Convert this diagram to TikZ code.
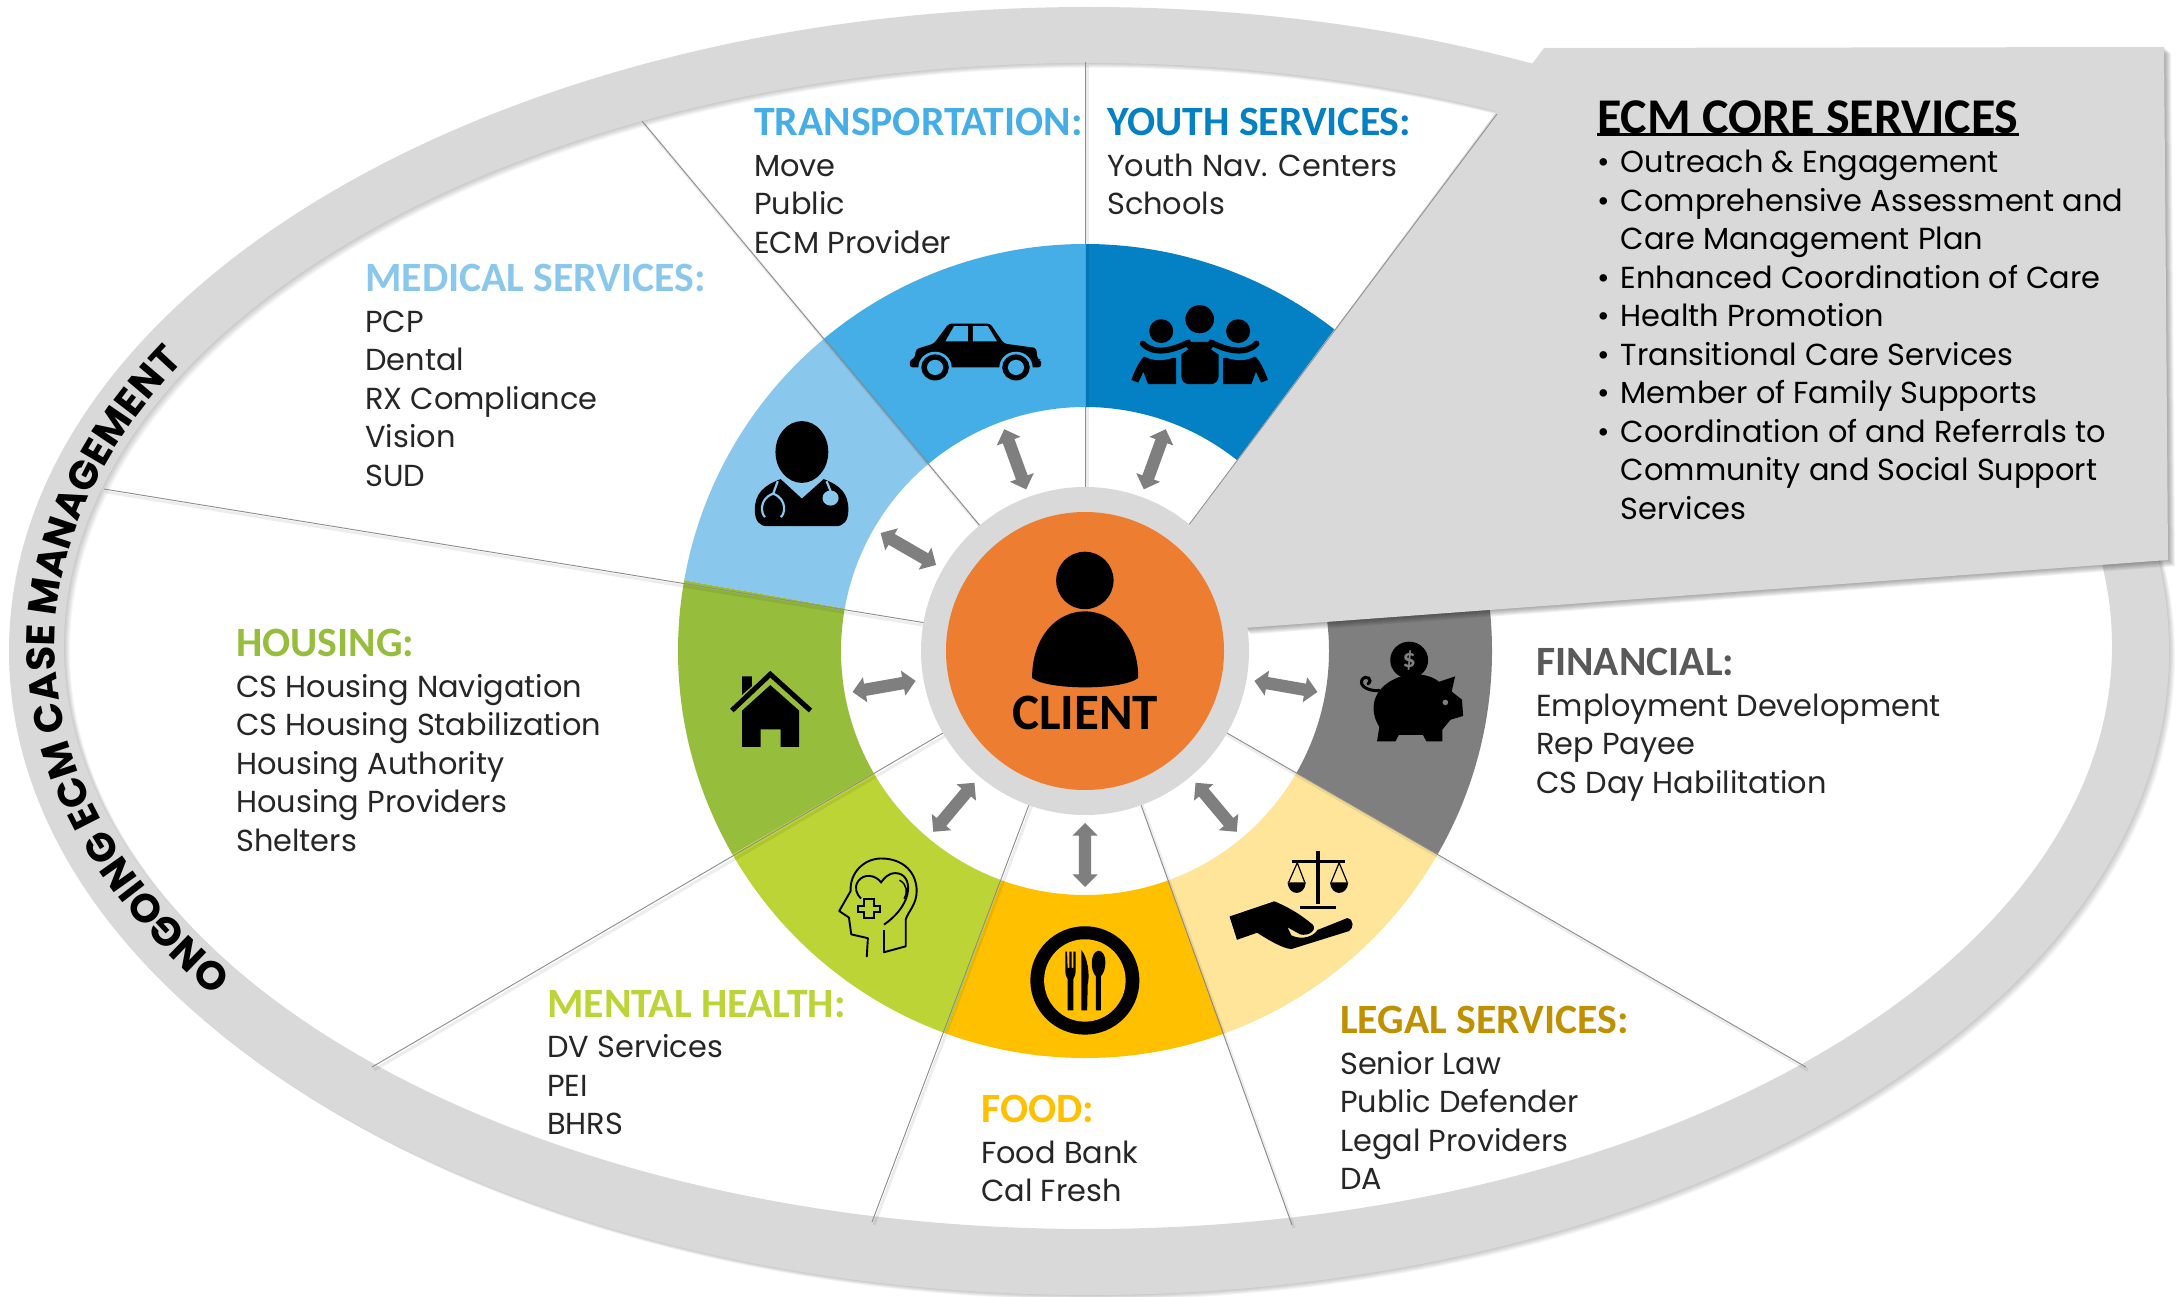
\documentclass[tikz,border=0pt]{standalone}
\usepackage{fontspec}
\usetikzlibrary{shapes.arrows,decorations.text,calc}
\setmainfont{Poppins}
\newfontfamily\headfam{Carlito}[BoldFont={Carlito Bold}]
\definecolor{bandgrey}{HTML}{D9D9D9}
\definecolor{arrowgrey}{HTML}{7F7F7F}
\definecolor{lineg}{HTML}{8C8C8C}
\definecolor{cYouth}{HTML}{0480C4}
\definecolor{cTrans}{HTML}{46AEE6}
\definecolor{cMed}{HTML}{89C8EC}
\definecolor{cHouse}{HTML}{96BE3C}
\definecolor{cMental}{HTML}{BCD435}
\definecolor{cFood}{HTML}{FFC000}
\definecolor{cLegal}{HTML}{FEE59A}
\definecolor{cLegalT}{HTML}{BF9000}
\definecolor{cFin}{HTML}{7F7F7F}
\definecolor{cFinT}{HTML}{595959}
\definecolor{cOrange}{HTML}{ED7D31}
\definecolor{bodyc}{HTML}{262626}
\newcommand\bodyfont{\fontsize{30.4}{38.5}\selectfont}
\newcommand\headfont{\headfam\bfseries\fontsize{41.7}{38.5}\selectfont}
\newcommand\shaft{\rule{0pt}{12pt}}
\tikzset{
  x=1pt,y=-1pt,
  wheel/.style={shift={(1085,651)},y=1pt},
  zc/.style={x=.574pt,y=-.542pt,shift={(640pt,-220pt)}},
  radial/.style={draw=lineg,line width=.9pt},
  radshadow/.style={draw=black,opacity=.07,line width=3pt},
  svc/.style={anchor=north west,inner sep=0pt,align=left,font=\bodyfont,text=bodyc},
  dbl/.style={double arrow,fill=arrowgrey,inner sep=0pt,minimum height=64pt,double arrow head extend=6.5pt,double arrow head indent=0pt},
  ic/.style={fill=black,draw=none},
}
\newcommand\seg[3]{\fill[#3] (#1:244) arc[start angle=#1,end angle=#2,radius=244] -- (#2:407) arc[start angle=#2,end angle=#1,radius=407] -- cycle;}
\newcommand\svcnode[6]{\node[svc] (#1) at (#2,#3) {{\headfont\color{#4}#5}\\[2pt]#6};}
\begin{document}
\begin{tikzpicture}
\useasboundingbox[fill=white] (0,0) rectangle (2178,1297);
% band shadow
\foreach \k in {1,2,3,4,5,6}{
  \fill[black,opacity=.035,even odd rule] (1089+\k,651+\k*.8) ellipse[x radius=1080,y radius=644] (1088+\k,646+\k*.8) ellipse[x radius=1024,y radius=583];
}
\fill[bandgrey,even odd rule] (1089,651) ellipse[x radius=1080,y radius=644] (1088,646) ellipse[x radius=1024,y radius=583];
% wheel
\begin{scope}[wheel]
\seg{50}{90}{cYouth}
\seg{90}{130}{cTrans}
\seg{130}{170}{cMed}
\seg{170}{210}{cHouse}
\seg{210}{250}{cMental}
\seg{250}{290}{cFood}
\seg{290}{330}{cLegal}
\seg{330}{370}{cFin}
\coordinate (s90) at (90:160);
\coordinate (s130) at (130:160);
\coordinate (s170) at (170:160);
\coordinate (s210) at (210:160);
\coordinate (s250) at (250:160);
\coordinate (s290) at (290:160);
\coordinate (s330) at (330:160);
\node[dbl,rotate=110] (a1) at (110:204) {\shaft};
\node[dbl,rotate=70] (a2) at (70:204) {\shaft};
\node[dbl,rotate=150] (a3) at (150:204) {\shaft};
\node[dbl,rotate=10] (a4) at (190:204) {\shaft};
\node[dbl,rotate=50] (a5) at (230:204) {\shaft};
\node[dbl,rotate=90] (a6) at (270:204) {\shaft};
\node[dbl,rotate=130] (a7) at (310:204) {\shaft};
\node[dbl,rotate=170] (a8) at (350:204) {\shaft};
\end{scope}
\coordinate (e90) at (1085,62);
\coordinate (e130) at (642,121);
\coordinate (e170) at (104,489);
\coordinate (e210) at (372,1067);
\coordinate (e250) at (872,1222);
\coordinate (e290) at (1292,1225);
\coordinate (e330) at (1806,1067);
\foreach \a in {90,130,170,210,250,290,330}{
  \draw[radshadow] ($(s\a)+(2,3)$) -- ($(e\a)+(2,3)$);
  \draw[radial] (s\a) -- (e\a);
}
% core box
\coordinate (b1) at (1188,526);
\coordinate (b2) at (1544,48);
\coordinate (b3) at (2164,47);
\coordinate (b4) at (2168,560);
\coordinate (b5) at (1244,628);
\foreach \k in {1,2,3,4,5,6,7}{
  \fill[black,opacity=.05] ($(b1)+(\k,\k*.9)$) -- ($(b2)+(\k,\k*.9)$) -- ($(b3)+(\k,\k*.9)$) -- ($(b4)+(\k,\k*.9)$) -- ($(b5)+(\k,\k*.9)$) -- cycle;
}
\fill[bandgrey] (b1) -- (b2) -- (b3) -- (b4) -- (b5) -- cycle;
\coordinate (b6) at (1497,114);
\draw[radial,line width=.8pt] (b1) -- (b6);
% hub
\fill[bandgrey] (1085,651) circle[radius=164];
\fill[cOrange] (1085,651) circle[radius=139];
% icons in zoom coordinates
\begin{scope}[zc]
% client
\fill[ic] (775,665) ellipse[x radius=50,y radius=53];
\fill[ic] (683,845) .. controls (683,770) and (725,722) .. (775,722) .. controls (825,722) and (868,770) .. (868,845) .. controls (840,868) and (710,868) .. (683,845) -- cycle;
% car
\fill[ic,rounded corners=3pt] (470,272) -- (470,258) -- (478,256) -- (481,238) -- (512,228) -- (538,191) -- (610,191) -- (634,228) -- (690,236) -- (693,258) -- (699,258) -- (699,272) -- (470,272) -- cycle;
\fill[cTrans] (532,224) -- (547,196) -- (571,196) -- (571,224) -- cycle;
\fill[cTrans] (580,196) -- (606,196) -- (622,224) -- (580,224) -- cycle;
\foreach \wx in {514,655}{
  \fill[cTrans] (\wx,272) ellipse[x radius=29,y radius=29];
  \fill[ic] (\wx,272) ellipse[x radius=24,y radius=24];
  \fill[cTrans] (\wx,272) ellipse[x radius=14,y radius=14];
}
% family
\fill[ic] (975,183) ellipse[x radius=25,y radius=26];
\fill[ic] (908,205) ellipse[x radius=21,y radius=22];
\fill[ic] (1042,205) ellipse[x radius=21,y radius=22];
\fill[ic,rounded corners=8pt] (943,225) -- (1008,225) -- (1008,303) -- (943,303) -- cycle;
\fill[ic] (856,295) .. controls (865,270) and (875,245) .. (895,245) -- (934,255) -- (934,303) -- (885,303) -- (877,280) -- (868,300) -- cycle;
\fill[ic] (1094,295) .. controls (1085,270) and (1075,245) .. (1055,245) -- (1016,255) -- (1016,303) -- (1065,303) -- (1073,280) -- (1082,300) -- cycle;
\draw[cYouth,line width=9pt] (870,232) .. controls (890,262) and (930,250) .. (950,232);
\draw[cYouth,line width=9pt] (1080,232) .. controls (1060,262) and (1020,250) .. (1000,232);
\draw[black,line width=6pt,line cap=round] (876,228) .. controls (895,250) and (930,240) .. (955,226);
\draw[black,line width=6pt,line cap=round] (1074,228) .. controls (1055,250) and (1020,240) .. (995,226);
% doctor
\fill[ic] (282,428) ellipse[x radius=46,y radius=57];
\fill[ic] (200,535) .. controls (200,505) and (215,490) .. (245,478) -- (282,514) -- (320,478) .. controls (350,490) and (363,505) .. (363,535) .. controls (363,555) and (355,565) .. (340,565) -- (222,565) .. controls (208,565) and (200,555) .. (200,535) -- cycle;
\draw[cMed,line width=2.2pt] (240,482) -- (232,505) .. controls (205,515) and (212,545) .. (218,548);
\draw[cMed,line width=2.2pt] (232,505) .. controls (258,515) and (252,545) .. (245,548);
\draw[cMed,line width=2.2pt] (325,482) -- (332,500);
\fill[cMed] (332,513) ellipse[x radius=14,y radius=14];
% house
\draw[black,line width=5pt] (160,905) -- (227,838) -- (297,905);
\fill[ic] (178,842) -- (195,842) -- (195,860) -- (178,876) -- cycle;
\fill[ic] (178,905) -- (227,858) -- (277,905) -- (277,972) -- (245,972) -- (245,940) -- (210,940) -- (210,972) -- (178,972) -- cycle;
% head with heart
\draw[black,line width=1.9pt,line join=round] (395,1360) -- (397,1325) -- (368,1318) -- (364,1287) -- (347,1275) -- (367,1238) .. controls (365,1205) and (390,1178) .. (420,1178) .. controls (460,1178) and (482,1205) .. (482,1238) .. controls (482,1262) and (468,1275) .. (463,1290) -- (463,1340) -- (425,1351) -- (425,1310);
\draw[black,line width=1.9pt] (425,1300) .. controls (480,1260) and (475,1205) .. (445,1205) .. controls (432,1205) and (425,1215) .. (420,1222) .. controls (410,1208) and (390,1205) .. (380,1220) .. controls (372,1232) and (378,1245) .. (385,1252);
\draw[black,line width=1.9pt] (390,1252) -- (407,1252) -- (407,1265) -- (418,1265) -- (418,1277) -- (407,1277) -- (407,1288) -- (390,1288) -- (390,1277) -- (380,1277) -- (380,1265) -- (390,1265) -- cycle;
\draw[black,line width=1.5pt] (452,1218) .. controls (465,1225) and (467,1240) .. (460,1252);
% plate
\fill[ic] (775,1403) ellipse[x radius=95,y radius=100];
\fill[cFood] (775,1403) ellipse[x radius=71,y radius=76];
\fill[ic] (741,1350) -- (744,1350) -- (745,1380) -- (748,1380) -- (748,1350) -- (752,1350) -- (752,1380) -- (755,1380) -- (755,1350) -- (759,1350) -- (759,1385) .. controls (759,1392) and (756,1398) .. (755,1400) -- (755,1458) -- (745,1458) -- (745,1400) .. controls (743,1398) and (741,1392) .. (741,1385) -- cycle;
\fill[ic] (769,1347) .. controls (780,1360) and (784,1395) .. (780,1410) -- (779,1458) -- (769,1458) -- cycle;
\fill[ic] (799,1348) .. controls (815,1350) and (813,1385) .. (803,1395) -- (803,1458) -- (794,1458) -- (794,1395) .. controls (784,1385) and (784,1350) .. (799,1348) -- cycle;
% scales and hand
\fill[ic] (1178,1165) rectangle (1184,1262);
\fill[ic] (1135,1180) rectangle (1228,1186);
\fill[ic] (1150,1265) rectangle (1212,1272);
\draw[black,line width=1.2pt] (1130,1222) -- (1145,1186) -- (1158,1222) (1204,1222) -- (1218,1186) -- (1232,1222);
\fill[ic] (1128,1222) .. controls (1130,1248) and (1158,1248) .. (1160,1222) -- cycle;
\fill[ic] (1202,1222) .. controls (1204,1248) and (1232,1248) .. (1234,1222) -- cycle;
\fill[ic] (1027,1285) -- (1105,1257) .. controls (1135,1270) and (1155,1285) .. (1172,1300) .. controls (1180,1310) and (1165,1322) .. (1150,1318) -- (1128,1305) -- (1135,1320) .. controls (1155,1330) and (1175,1320) .. (1180,1310) -- (1232,1288) .. controls (1245,1290) and (1243,1308) .. (1235,1312) -- (1135,1345) .. controls (1120,1345) and (1090,1325) .. (1075,1315) -- (1040,1328) -- cycle;
% piggy
\fill[ic] (1340,812) ellipse[x radius=33,y radius=34];
\node[inner sep=0pt,text=cFin,font=\headfam\bfseries\fontsize{26}{26}\selectfont] (dollar) at (1340,812) {\$};
\fill[ic] (1278,900) .. controls (1278,860) and (1320,838) .. (1350,838) .. controls (1368,838) and (1385,845) .. (1392,852) -- (1420,842) -- (1414,870) -- (1432,885) -- (1434,915) -- (1412,922) -- (1398,940) -- (1398,962) -- (1370,962) -- (1364,950) -- (1322,950) -- (1316,962) -- (1284,962) -- (1288,935) .. controls (1282,925) and (1278,915) .. (1278,900) -- cycle;
\draw[black,line width=3pt,line cap=round] (1288,868) .. controls (1270,870) and (1252,860) .. (1258,848) .. controls (1265,838) and (1278,848) .. (1268,856);
\fill[cFin] (1403,890) ellipse[x radius=5,y radius=5];
\end{scope}
\node[inner sep=0pt,font=\headfam\bfseries\fontsize{51}{51}\selectfont] (client) at (1085,713) {CLIENT};
% services
\svcnode{trans}{754}{108}{cTrans}{TRANSPORTATION:}{Move\\Public\\ECM Provider}
\svcnode{youth}{1107}{108}{cYouth}{YOUTH SERVICES:}{Youth Nav. Centers\\Schools}
\svcnode{med}{365}{264}{cMed}{MEDICAL SERVICES:}{PCP\\Dental\\RX Compliance\\Vision\\SUD}
\svcnode{hous}{236}{629}{cHouse}{HOUSING:}{CS Housing Navigation\\CS Housing Stabilization\\Housing Authority\\Housing Providers\\Shelters}
\svcnode{fin}{1536}{648}{cFinT}{FINANCIAL:}{Employment Development\\Rep Payee\\CS Day Habilitation}
\svcnode{ment}{547}{990}{cMental}{MENTAL HEALTH:}{DV Services\\PEI\\BHRS}
\svcnode{food}{981}{1095}{cFood}{FOOD:}{Food Bank\\Cal Fresh}
\svcnode{legal}{1340}{1006}{cLegalT}{LEGAL SERVICES:}{Senior Law\\Public Defender\\Legal Providers\\DA}
% core text
\node[anchor=north west,inner sep=0pt,font=\headfam\bfseries\fontsize{50}{50}\selectfont] (coretitle) at (1597,101) {ECM CORE SERVICES};
\draw[line width=3.5pt] (coretitle.south west) -- (coretitle.south east);
\node[svc,text=black] (core) at (1597,150) {%
\makebox[23.6pt][l]{•}Outreach \& Engagement\\
\makebox[23.6pt][l]{•}Comprehensive Assessment and\\
\hspace*{23.6pt}Care Management Plan\\
\makebox[23.6pt][l]{•}Enhanced Coordination of Care\\
\makebox[23.6pt][l]{•}Health Promotion\\
\makebox[23.6pt][l]{•}Transitional Care Services\\
\makebox[23.6pt][l]{•}Member of Family Supports\\
\makebox[23.6pt][l]{•}Coordination of and Referrals to\\
\hspace*{23.6pt}Community and Social Support\\
\hspace*{23.6pt}Services};
% curved label
\begin{scope}[shift={(1088,646)},y=1pt]
\path[decorate,decoration={text along path,text align={center},text={|\bfseries\fontsize{40}{40}\selectfont|ONGOING ECM CASE MANAGEMENT}}] (218:1033 and 588) arc[start angle=218,end angle=147,x radius=1033,y radius=588];
\end{scope}
\end{tikzpicture}
\end{document}
